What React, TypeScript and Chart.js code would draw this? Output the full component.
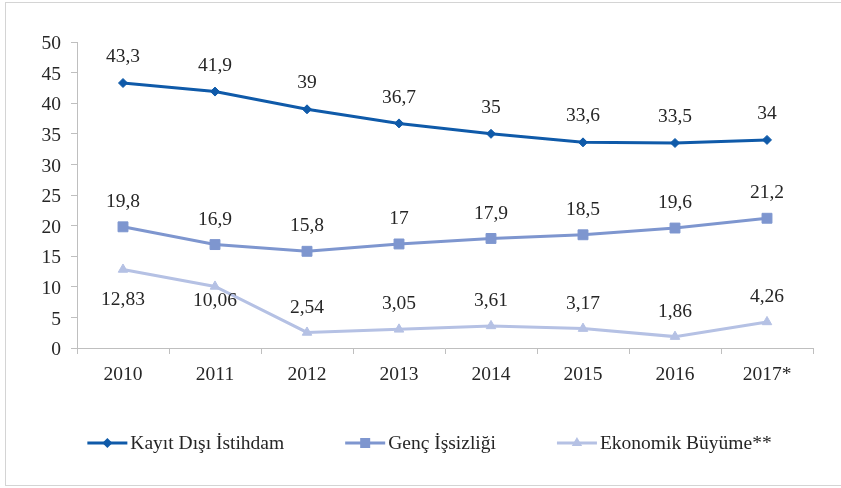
import React, { useEffect, useRef } from 'react';
import { Chart, registerables } from 'chart.js';

Chart.register(...registerables);

// ---- data ----
const categories = ['2010', '2011', '2012', '2013', '2014', '2015', '2016', '2017*'];
const kayitDisiIstihdam = [43.3, 41.9, 39, 36.7, 35, 33.6, 33.5, 34];
const gencIssizligi = [19.8, 16.9, 15.8, 17, 17.9, 18.5, 19.6, 21.2];
const ekonomikBuyume = [12.83, 10.06, 2.54, 3.05, 3.61, 3.17, 1.86, 4.26];
const seriesNames = ['Kayıt Dışı İstihdam', 'Genç İşsizliği', 'Ekonomik Büyüme**'];
const yMin = 0;
const yMax = 50;
const yStep = 5;

// ---- style ----
const FONT_FAMILY = "'Liberation Serif', 'Times New Roman', Times, serif";
const FONT_SIZE = 19.5;
const TEXT = '#262626';
const AXIS = '#bfbfbf';
const C1 = '#0f5aa9';
const C2 = '#7e96cf';
const C3 = '#b5c1e4';
const pointShapes = ['rectRot', 'rect', 'triangle'];
const markerSizes = [4.5, 7, 5.5];
const labelOffsets: (number | number[])[] = [-26, -25, [30, 14, -25, -25, -25, -25, -25, -25]];

function fmt(v: number) {
  return String(v).replace('.', ',');
}

const valueLabels = {
  id: 'valueLabels',
  afterDatasetsDraw(chart: any) {
    const ctx = chart.ctx;
    ctx.save();
    ctx.font = `${FONT_SIZE}px ${FONT_FAMILY}`;
    ctx.fillStyle = TEXT;
    ctx.textAlign = 'center';
    ctx.textBaseline = 'middle';
    chart.data.datasets.forEach((ds: any, i: number) => {
      const meta = chart.getDatasetMeta(i);
      const offs = labelOffsets[i];
      meta.data.forEach((pt: any, j: number) => {
        const off = Array.isArray(offs) ? offs[j] : offs;
        ctx.fillText(fmt(ds.data[j]), pt.x, pt.y + off);
      });
    });
    ctx.restore();
  },
};

function drawMarker(ctx: CanvasRenderingContext2D, shape: string, x: number, y: number, color: string) {
  ctx.fillStyle = color;
  ctx.beginPath();
  if (shape === 'rectRot') {
    const r = 5;
    ctx.moveTo(x - r, y);
    ctx.lineTo(x, y - r);
    ctx.lineTo(x + r, y);
    ctx.lineTo(x, y + r);
  } else if (shape === 'rect') {
    const h = 5;
    ctx.rect(x - h, y - h, 2 * h, 2 * h);
  } else {
    const r = 6;
    ctx.moveTo(x, y - r);
    ctx.lineTo(x + r * 0.866, y + r * 0.5);
    ctx.lineTo(x - r * 0.866, y + r * 0.5);
  }
  ctx.closePath();
  ctx.fill();
}

const bottomLegend = {
  id: 'bottomLegend',
  afterDraw(chart: any) {
    const ctx = chart.ctx;
    ctx.save();
    ctx.font = `${FONT_SIZE}px ${FONT_FAMILY}`;
    const lineLen = 40;
    const gapText = 3;
    const gapItems = 61;
    const centerX = 429.5;
    const cy = 443;
    const textCy = 444;
    const widths = chart.data.datasets.map((ds: any) => ctx.measureText(ds.label).width);
    const total =
      widths.reduce((a: number, w: number) => a + lineLen + gapText + w, 0) + gapItems * (widths.length - 1);
    let x = centerX - total / 2;
    chart.data.datasets.forEach((ds: any, i: number) => {
      ctx.strokeStyle = ds.borderColor;
      ctx.lineWidth = 3;
      ctx.beginPath();
      ctx.moveTo(x, cy);
      ctx.lineTo(x + lineLen, cy);
      ctx.stroke();
      drawMarker(ctx, pointShapes[i], x + lineLen / 2, cy, ds.borderColor);
      ctx.fillStyle = TEXT;
      ctx.textAlign = 'left';
      ctx.textBaseline = 'middle';
      ctx.fillText(ds.label, x + lineLen + gapText, textCy);
      x += lineLen + gapText + widths[i] + gapItems;
    });
    ctx.restore();
  },
};

export default function App() {
  const ref = useRef<HTMLCanvasElement | null>(null);

  useEffect(() => {
    if (!ref.current) return;
    const font = { family: FONT_FAMILY, size: FONT_SIZE };
    const colors = [C1, C2, C3];
    const series = [kayitDisiIstihdam, gencIssizligi, ekonomikBuyume];
    const chart = new Chart(ref.current, {
      type: 'line',
      data: {
        labels: categories,
        datasets: series.map((d, i) => ({
          label: seriesNames[i],
          data: d,
          borderColor: colors[i],
          backgroundColor: colors[i],
          borderWidth: 3,
          pointStyle: pointShapes[i] as any,
          pointRadius: markerSizes[i],
          pointBorderWidth: 1,
          pointBackgroundColor: colors[i],
          pointBorderColor: colors[i],
          tension: 0,
          fill: false,
        })),
      },
      options: {
        responsive: false,
        animation: false,
        devicePixelRatio: 1,
        layout: { padding: { left: 10, right: 28, top: 42, bottom: 100 } },
        plugins: {
          legend: { display: false },
          tooltip: { enabled: false },
        },
        scales: {
          x: {
            type: 'category',
            offset: true,
            grid: { offset: true, drawOnChartArea: false, drawTicks: true, tickLength: 6, color: AXIS, lineWidth: 1 },
            border: { color: AXIS, width: 1 },
            ticks: { font, color: TEXT, padding: 9, maxRotation: 0, autoSkip: false },
            afterFit: (s: any) => {
              s.height = 40;
            },
          },
          y: {
            min: yMin,
            max: yMax,
            grid: { drawOnChartArea: false, drawTicks: true, tickLength: 6, color: AXIS, lineWidth: 1 },
            border: { color: AXIS, width: 1 },
            ticks: { stepSize: yStep, font, color: TEXT, padding: 10, labelOffset: 2 },
            afterFit: (s: any) => {
              s.width = 67;
            },
          },
        },
      },
      plugins: [valueLabels, bottomLegend],
    });
    return () => chart.destroy();
  }, []);

  return (
    <div style={{ position: 'absolute', left: 0, top: 0, width: 841, height: 488, background: '#fff' }}>
      <div
        style={{
          position: 'absolute',
          left: 5,
          top: 2,
          width: 836,
          height: 482,
          borderTop: '1px solid #d4d4d4',
          borderLeft: '1px solid #d4d4d4',
          borderBottom: '1px solid #d4d4d4',
          boxSizing: 'content-box',
        }}
      />
      <canvas
        ref={ref}
        width={841}
        height={488}
        style={{ position: 'absolute', left: 0, top: 0, width: 841, height: 488, display: 'block' }}
      />
    </div>
  );
}
